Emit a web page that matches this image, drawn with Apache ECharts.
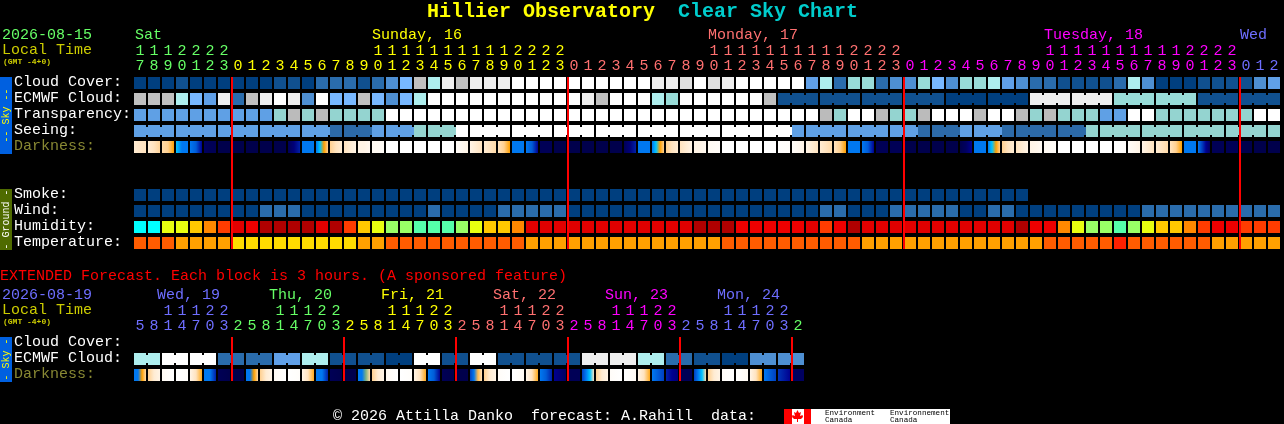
<!DOCTYPE html>
<html><head><meta charset="utf-8">
<style>html,body{margin:0;padding:0;background:#000}#c{width:1284px;height:424px}</style>
<script src="https://cdn.jsdelivr.net/npm/echarts@6/dist/echarts.min.js"></script>
</head><body><div id="c"></div>
<script>
const hours=[17,18,19,20,21,22,23,
0,1,2,3,4,5,6,7,8,9,10,11,12,13,14,15,16,17,18,19,20,21,22,23,
0,1,2,3,4,5,6,7,8,9,10,11,12,13,14,15,16,17,18,19,20,21,22,23,
0,1,2,3,4,5,6,7,8,9,10,11,12,13,14,15,16,17,18,19,20,21,22,23,
0,1,2];
const extHours=[5,8,11,14,17,20,23,
2,5,8,11,14,17,20,23,2,5,8,11,14,17,20,23,2,5,8,11,14,17,20,23,
2,5,8,11,14,17,20,23,2,5,8,11,14,17,20,23,2];
const skyRows=["Cloud Cover:","ECMWF Cloud:","Transparency:","Seeing:","Darkness:"];
const groundRows=["Smoke:","Wind:","Humidity:","Temperature:"];
const extRows=["Cloud Cover:","ECMWF Cloud:","Darkness:"];
const dayLabels=["Sat","Sunday, 16","Monday, 17","Tuesday, 18","Wed"];
const dayStartCols=[0,17,41,65,79];
const extDayLabels=["Wed, 19","Thu, 20","Fri, 21","Sat, 22","Sun, 23","Mon, 24"];
const midnightCols=[7,31,55,79];
const extMidnightCols=[7,15,23,31,39,47];

const cloud=[0,0,0,1,0,0,0,0,0,0,
1,1,0,2,2,2,1,2,3,5,
8,7,10,8,10,10,10,11,11,11,
11,11,11,11,11,11,11,10,10,9,
11,9,10,11,11,11,11,11,4,7,
2,6,6,2,3,3,6,5,3,6,
6,7,4,3,2,2,1,1,1,1,
2,7,3,0,0,0,1,1,1,1,
3,4];
const ecmwf=[8,8,8,7,5,4,10,2,8,10,
11,10,3,11,5,5,8,5,3,5,
7,11,11,11,11,11,11,11,11,11,
11,11,10,8,11,11,11,7,6,11,
11,11,11,11,11,8,1,1,1,1,
1,1,1,1,1,1,1,1,0,0,
0,0,0,0,10,10,10,10,10,10,
6,6,6,6,6,6,1,1,1,1,
1,1];
const transparency=[1,1,1,1,1,1,1,1,1,1,
2,3,2,3,2,2,2,2,4,4,
4,4,4,4,4,4,4,4,4,4,
4,4,4,4,4,4,4,4,4,4,
4,4,4,4,4,4,4,4,4,3,
2,4,4,3,2,2,3,4,4,4,
3,4,4,3,2,3,2,2,2,1,
1,4,4,2,2,2,2,2,2,2,
4,4];
const seeing=[1,1,1,1,1,1,1,1,1,1,
1,1,1,1,0,0,0,1,1,1,
2,2,2,4,4,4,4,4,4,4,
4,4,4,4,4,4,4,4,4,4,
4,4,4,4,4,4,4,1,1,1,
1,1,1,1,1,1,0,0,0,1,
1,1,0,0,0,0,0,0,2,2,
2,2,2,2,2,2,2,2,2,2,
2,2];
const darkness=[[1.5,1.8,2],[1.5,2,2.8],[2.5,3,4],[5,6,6],[6,6.5,8],[9,9.5,9.5],[10],
[10],[10],[10],[10],[9.5,8.5,7.5],[6],[6,5,4,3],[3,2,1.5],[2,1.5,1],[1,1,.6],[.5,.5,.3],[0],[0],[0],[0],[0],[.3,.6,1],[1,1.5,2],[1.5,2,2.5],[2,3,4],[6],[6,6.5,8],[9.5],[10],
[10],[10],[10],[10],[9.5,8.5,7.5],[6],[6,5,4,3],[3,2,1.5],[2,1.5,1],[1,1,.6],[.5,.3],[0],[0],[0],[0],[.1,.2],[.3,.6,1],[1,1.5,2],[1.5,2,2.5],[2,3,4],[6],[6,6.5,8],[9.5],[9.5],[10],
[10],[10],[10],[10,9,8],[6],[6,5,4,3],[3,2,1.5],[2,1.5,1],[1,.8,.5],[.5,.3],[0],[0],[0],[0],[0,.2],[.3,.6,1],[1,1.5,2],[1.5,2,2.5],[2,3,4],[6],[6,7,8,9],[9.5],[9.5],
[10],[10],[10]];
const smoke=[0,0,0,0,0,0,0,0,0,0,0,0,0,0,0,0,0,0,0,0,0,0,0,0,0,0,0,0,0,0,0,0,
0,0,0,0,0,0,0,0,0,0,0,0,0,0,0,0,0,0,0,0,0,0,0,0,0,0,0,0,0,0,0,0];
const wind=[0,0,0,0,0,0,0,0,0,2,
2,2,0,0,0,0,0,0,0,0,
0,2,0,0,0,0,2,2,2,2,
2,0,0,0,0,0,0,0,0,0,
0,0,0,0,0,0,0,0,0,2,
2,0,0,0,2,2,2,2,2,0,
0,2,2,0,0,0,0,0,0,0,
0,0,2,2,2,2,2,2,2,2,
2,2];
const humidity=[0,0,3,3,4,5,6,8,7,9,
9,9,9,8,9,6,4,3,2,2,
1,1,1,2,3,4,4,5,8,8,
8,8,8,8,8,8,8,8,8,8,
9,9,9,7,7,7,7,7,8,6,
7,9,8,8,8,8,8,8,8,8,
8,8,8,9,7,7,5,3,2,2,
1,2,3,4,4,5,6,7,7,6,
6,6];
const temperature=[1,1,1,2,2,2,2,3,3,3,
3,3,3,3,3,3,2,2,1,1,
1,1,1,1,1,1,1,1,2,2,
2,2,2,2,2,2,2,2,2,2,
2,2,1,1,1,1,1,1,1,1,
1,1,2,2,2,2,2,2,2,2,
2,2,2,2,2,1,1,1,1,1,
0,1,1,1,1,1,1,2,2,2,
2,2];
const extCloud=[7,7,11,11,11,11,2,2,2,2,4,4,7,7,1,1,1,1,0,0,11,11,1,1,
11,11,1,1,1,1,1,1,10,10,10,10,7,7,2,2,1,1,0,0,3,3,3,3];
const extDarkness=[[6,6,4,2.5],[3,1.5,1],[.5,0],[0,.2],[1,2,3.8],[6,6,7.5],[9.5,10],[10],
[6,6,4,2.5],[3,1.5,1],[.5,0],[0,.2],[1,2,3.8],[6,6,7.5],[9.5,10],[10],
[6,6,4.5,2.5],[3,1.5,1],[.5,0],[0,.2],[1,2,3.8],[6,6.5,8],[9.5,10],[10],
[7,6,3.5,2],[3,1.5,1],[.3,0],[0,.5],[1,2,3.8],[6,6.5,7.5],[8,8.5,9],[9.5],
[7,6,5,2],[3,1.5,1],[.3,0],[0,.5],[1,2,3.8],[6,6.5,7],[7.5,8,8.5],[9.5],
[7,6,5,2.5],[3,1.5,1],[.3,0],[0,.5],[1,2,3.8],[6,6.5,7],[7.2,7.6,8],[9]];

const cloudColors=["#003f7f","#10508f","#2a6cac","#4e8fd2","#60a0e8","#78b8ff","#98dcd8","#aeeeee","#c0c0c0","#e0e0e0","#eeeeee","#ffffff"];
const skyColors=["#2c6aa8","#5fa0e5","#94d4d0","#bbbbbb","#ffffff"];
const humidityColors=["#00ffff","#55ffaa","#99ff66","#e8ff10","#ffc800","#ff8800","#ff3c00","#ee0000","#e00000","#b00000"];
const temperatureColors=["#ff2000","#ff5c00","#ffa000","#ffdc00"];
const darkRamp=["#ffffff","#fff4e6","#ffe3bf","#ffd090","#ffa000","#00c4ff","#0078f0","#0040c0","#000090","#000060","#00004c"];
const dayColors=["#66ff66","#ffff00","#ff7070","#ff00ff","#6e6eff"];
const extDayColors=["#6e6eff","#66ff66","#ffff00","#ff7070","#ff00ff","#6e6eff","#66ff66"];
const MONO='"Liberation Mono"';

function hex(c){return [1,3,5].map(k=>parseInt(c.substr(k,2),16));}
function ramp(v){
  const a=Math.min(Math.floor(v),darkRamp.length-1),b=Math.min(a+1,darkRamp.length-1),t=v-a;
  const A=hex(darkRamp[a]),B=hex(darkRamp[b]);
  return 'rgb('+A.map((x,k)=>Math.round(x+(B[k]-x)*t)).join(',')+')';
}
function gradient(stops){
  if(stops.length===1) return ramp(stops[0]);
  return {type:'linear',x:0,y:0,x2:1,y2:0,colorStops:stops.map((v,k)=>({offset:k/(stops.length-1),color:ramp(v)}))};
}
function dayIndex(list){
  let d=0;return list.map((h,i)=>{if(i&&h<list[i-1])d++;return d;});
}
const dayOf=dayIndex(hours),extDayOf=dayIndex(extHours);

// join(i) tells whether cell i is bridged to cell i+1
function cellSeries(gridIdx,axisX,row,values,fill,join,len){
  return {type:'custom',coordinateSystem:'cartesian2d',xAxisIndex:axisX,yAxisIndex:gridIdx,silent:true,z:2,
    data:values.map((v,i)=>[i,row,i]),encode:{x:0,y:1},clip:false,
    renderItem(p,api){
      const i=api.value(0),c=api.coord([i,row]),f=fill(i);
      const kids=[{type:'rect',shape:{x:c[0]-6,y:c[1]-6,width:12,height:12},style:{fill:f}}];
      if(join&&join(i)&&i+1<len) kids.push({type:'rect',shape:{x:c[0]+6,y:c[1]-4,width:2,height:8},style:{fill:f}});
      return {type:'group',children:kids};
    }};
}
function redSeries(axis,cols){
  return {type:'custom',coordinateSystem:'cartesian2d',xAxisIndex:axis,yAxisIndex:axis,silent:true,z:5,clip:false,
    data:cols.map(c=>[c,0.5]),encode:{x:0,y:1},
    renderItem(p,api){
      const c=api.coord([api.value(0),0.5]);
      return {type:'rect',shape:{x:c[0]-7,y:p.coordSys.y,width:2,height:p.coordSys.height},style:{fill:'#ff0000'}};
    }};
}
function topAxis(grid,list,fmt,colorOf,margin){
  return {type:'category',gridIndex:grid,position:'top',data:list.map(fmt),boundaryGap:true,
    axisLine:{show:false},axisTick:{show:false},splitLine:{show:false},
    axisLabel:{show:true,interval:0,margin:margin,hideOverlap:false,fontFamily:MONO,fontSize:15,
      color:(v,i)=>colorOf(i)}};
}
function hiddenX(grid,list){return {type:'category',gridIndex:grid,data:list,show:false,boundaryGap:true};}
function rowAxis(grid,rows){
  const tok=c=>({color:c,fontFamily:MONO,fontSize:15,height:14,padding:[0,0,1,0]});
  return {type:'category',gridIndex:grid,data:rows,inverse:true,boundaryGap:true,
    axisLine:{show:false},axisTick:{show:false},splitLine:{show:false},
    axisLabel:{show:true,interval:0,align:'left',margin:119,
      formatter:v=>(v==="Darkness:"?'{d|':'{w|')+v+'}',
      rich:{w:tok('#ffffff'),d:tok('#888833')}}};
}
function hiddenY(grid){return {type:'value',gridIndex:grid,min:0,max:1,show:false};}
function txt(x,y,s,fill,font){return {type:'text',x,y,silent:true,z:10,style:{x:0,y:0,text:s,fill,font:font||('15px '+MONO),align:'left',verticalAlign:'middle'}};}
function vtxt(x,y,s,fill){return {type:'text',x,y,rotation:Math.PI/2,silent:true,z:11,style:{x:0,y:0,text:s,fill,font:'10px '+MONO,align:'center',verticalAlign:'middle'}};}
function box(x,y,w,h,fill,z){return {type:'rect',silent:true,z:z||9,shape:{x,y,width:w,height:h},style:{fill}};}

const W=14,L=133;
const tens=h=>h>=10?String(Math.floor(h/10)):'';
const units=h=>String(h%10);
const pal=(arr,vals)=>i=>arr[vals[i]];
const seeingJoin=i=>((i+1)%3)!==0;          // blocks start at col 2,5,8…
const ecmwfJoin=i=>i>=46&&((i-46+1)%3)!==0; // 3-hourly from col 46
const extJoin=i=>i%2===0;

const graphic=[
  txt(427,12,"Hillier Observatory","#ffff00",'bold 20px '+MONO),
  txt(678,12,"Clear Sky Chart","#00cccc",'bold 20px '+MONO),
  txt(2,35,"2026-08-15","#66ff66"),
  txt(2,50,"Local Time","#cccc00"),
  txt(3,62,"(GMT -4+0)","#cccc00",'bold 8px '+MONO),
  box(0,77,12,77,"#0060e0"),
  vtxt(6,115.5,"-- Sky --","#ffff00"),
  box(0,189,12,61,"#4f6b00"),
  vtxt(6,219.5,"- Ground -","#ffffff"),
  txt(0,276,"EXTENDED Forecast. Each block is 3 hours. (A sponsored feature)","#ff0000"),
  txt(2,295,"2026-08-19","#6e6eff"),
  txt(2,310,"Local Time","#cccc00"),
  txt(3,322,"(GMT -4+0)","#cccc00",'bold 8px '+MONO),
  box(0,337,12,45,"#0060e0"),
  vtxt(6,359.5,"- Sky -","#ffff00"),
  txt(333,416,"\u00a9 2026 Attilla Danko  forecast: A.Rahill  data:","#ffffff"),
  box(784,409,166,15,"#ffffff"),
  box(784,409,8,15,"#ff0000",10),
  box(804,409,7,15,"#ff0000",10),
  {type:'polygon',silent:true,z:10,shape:{points:[[797.5,410],[799,413],[801,412],[800,416],[802.5,415],[803,417],[801,419],[798,419],[798,422],[797,422],[797,419],[794,419],[792,417],[792.5,415],[795,416],[794,412],[796,413]]},style:{fill:'#ff0000'}},
  txt(825,413,"Environment","#000000",'7.6px '+MONO),
  txt(825,420,"Canada","#000000",'7.6px '+MONO),
  txt(890,413,"Environnement","#000000",'7.6px '+MONO),
  txt(890,420,"Canada","#000000",'7.6px '+MONO)
];
dayLabels.forEach((s,k)=>graphic.push(txt(135+W*dayStartCols[k]-(k?1:0),35,s,dayColors[k])));
extDayLabels.forEach((s,k)=>graphic.push(txt(157+112*k,295,s,extDayColors[k])));

const option={
  backgroundColor:'#000',animation:false,tooltip:{show:false},legend:{show:false},
  grid:[
    {left:L,top:75,width:W*82,height:80,containLabel:false,outerBoundsMode:'none'},
    {left:L,top:187,width:W*82,height:64,containLabel:false,outerBoundsMode:'none'},
    {left:L,top:335,width:W*48,height:48,containLabel:false,outerBoundsMode:'none'},
    {left:L,top:77,width:W*82,height:172,containLabel:false,outerBoundsMode:'none'},
    {left:L,top:337,width:W*48,height:44,containLabel:false,outerBoundsMode:'none'}
  ],
  xAxis:[
    topAxis(0,hours,units,i=>dayColors[dayOf[i]],1),
    hiddenX(1,hours),
    topAxis(2,extHours,units,i=>extDayColors[extDayOf[i]],1),
    hiddenX(3,hours),
    hiddenX(4,extHours),
    topAxis(0,hours,tens,i=>dayColors[dayOf[i]],16),
    topAxis(2,extHours,tens,i=>extDayColors[extDayOf[i]],16)
  ],
  yAxis:[rowAxis(0,skyRows),rowAxis(1,groundRows),rowAxis(2,extRows),hiddenY(3),hiddenY(4)],
  graphic:{elements:graphic},
  series:[
    cellSeries(0,0,0,cloud,pal(cloudColors,cloud),null,82),
    cellSeries(0,0,1,ecmwf,pal(cloudColors,ecmwf),ecmwfJoin,82),
    cellSeries(0,0,2,transparency,pal(skyColors,transparency),null,82),
    cellSeries(0,0,3,seeing,pal(skyColors,seeing),seeingJoin,82),
    cellSeries(0,0,4,darkness,i=>gradient(darkness[i]),null,82),
    cellSeries(1,1,0,smoke,pal(cloudColors,smoke),null,64),
    cellSeries(1,1,1,wind,pal(cloudColors,wind),null,82),
    cellSeries(1,1,2,humidity,pal(humidityColors,humidity),null,82),
    cellSeries(1,1,3,temperature,pal(temperatureColors,temperature),null,82),
    cellSeries(2,2,1,extCloud,pal(cloudColors,extCloud),extJoin,48),
    cellSeries(2,2,2,extDarkness,i=>gradient(extDarkness[i]),null,48),
    redSeries(3,midnightCols),
    redSeries(4,extMidnightCols)
  ]
};
const chart=echarts.init(document.getElementById('c'),null,{renderer:'canvas',width:1284,height:424});
chart.setOption(option);
</script></body></html>
